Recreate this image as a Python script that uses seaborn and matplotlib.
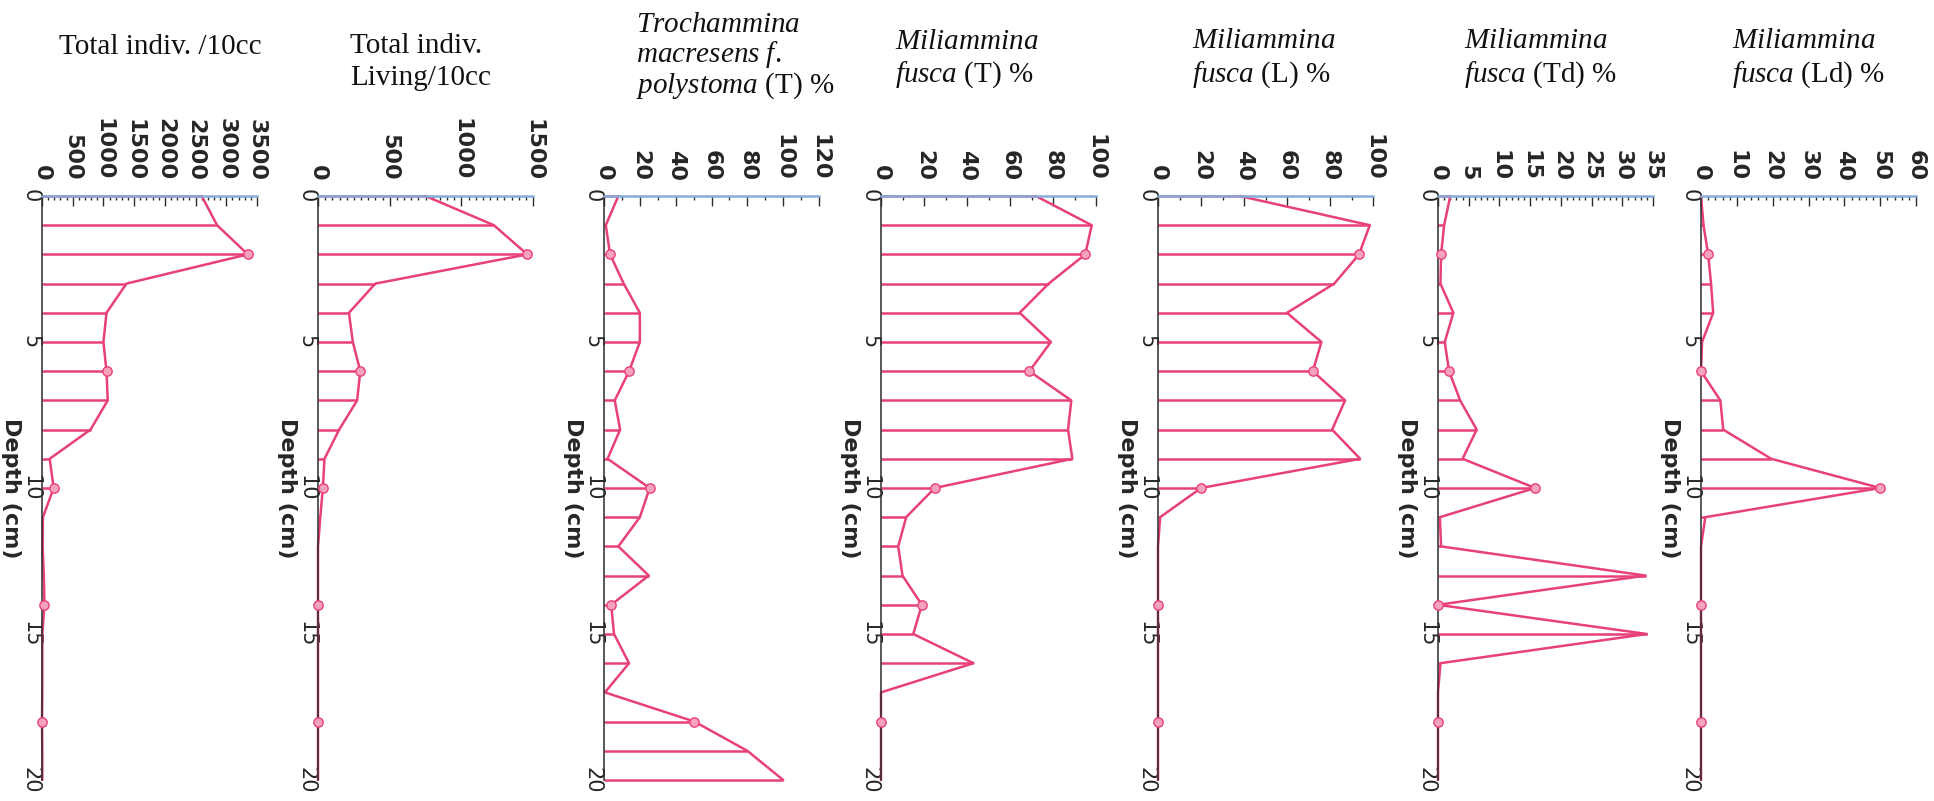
import numpy as np
import pandas as pd
import matplotlib
matplotlib.use('Agg')
import matplotlib.pyplot as plt
from matplotlib.ticker import MultipleLocator
import seaborn as sns

# ==================== 数据 ====================
# 深度 (cm)，每 1 cm 一个样
depth = list(range(0, 21))

total_indiv = [2600, 2850, 3350, 1375, 1050, 1000, 1050, 1070, 790, 125, 190,
               15, 10, 30, 40, 5, 5, 5, 0, 5, 5]
living_indiv = [750, 1227, 1460, 400, 216, 243, 295, 273, 148, 45, 34,
                16, 0, 0, 0, 0, 0, 0, 0, 0, 0]
tm_polystoma_T = [8, 1, 3.4, 11, 20, 20, 14, 6, 9, 2, 25.5,
                  20, 8, 25, 4, 5.6, 14, 0.5, 50.5, 80, 100]
mf_T = [72, 98, 95, 78, 64.5, 79, 69, 88.5, 87, 89, 25,
        11.7, 8, 10, 19, 15, 43, 0, 0, 0, 0]
mf_L = [38, 98.5, 93.5, 82, 60, 76, 72, 87, 81, 94, 20,
        1, 0, 0, 0, 0, 0, 0, 0, 0, 0]
mf_Td = [2, 1, 0.5, 0.4, 2.5, 1.1, 1.8, 3.6, 6.3, 4, 15.8,
         0.3, 0.5, 33.8, 0, 34, 0.4, 0, 0, 0, 0]
mf_Ld = [0, 0.7, 2, 2.8, 3.4, 0.3, 0, 5.4, 6.2, 19.6, 50,
         1.2, 0, 0, 0, 0, 0, 0, 0, 0, 0]

panel_values = [total_indiv, living_indiv, tm_polystoma_T, mf_T, mf_L, mf_Td, mf_Ld]
panel_xmax = [3500, 1500, 120, 100, 100, 35, 60]
panel_xstep = [500, 500, 20, 20, 20, 5, 10]
panel_minor = [100, 50, 10, 10, 10, 1, 2]

panel_titles = [
    ["Total indiv. /10cc"],
    ["Total indiv.", "Living/10cc"],
    [r"$\mathit{Trochammina}$", r"$\mathit{macresens\ f.}$", r"$\mathit{polystoma}$ (T) %"],
    [r"$\mathit{Miliammina}$", r"$\mathit{fusca}$ (T) %"],
    [r"$\mathit{Miliammina}$", r"$\mathit{fusca}$ (L) %"],
    [r"$\mathit{Miliammina}$", r"$\mathit{fusca}$ (Td) %"],
    [r"$\mathit{Miliammina}$", r"$\mathit{fusca}$ (Ld) %"],
]

# ==================== 版面 (像素) ====================
W, H = 1934, 801
axes_left_px = [42, 318, 604, 881, 1158, 1438, 1701]
axes_width_px = 215
axes_top_px, axes_bottom_px = 196, 780
title_left_px = [59, 350, 636, 895, 1192, 1464, 1732]
title_y_px = [[47], [46, 78], [25, 55, 86], [42, 75], [41, 75], [41, 75], [41, 75]]

pink = '#e8407a'
marker_face = '#f5a3bb'
axis_blue = '#86acd8'
dark = '#2b2b2b'

sns.set_style('white')
plt.rcParams['font.family'] = ['DejaVu Sans']
plt.rcParams['mathtext.fontset'] = 'custom'
plt.rcParams['mathtext.rm'] = 'Liberation Serif'
plt.rcParams['mathtext.it'] = 'Liberation Serif:italic'

fig = plt.figure(figsize=(W / 100, H / 100), dpi=100)

for i, vals in enumerate(panel_values):
    ax = fig.add_axes([axes_left_px[i] / W, 1 - axes_bottom_px / H,
                       axes_width_px / W, (axes_bottom_px - axes_top_px) / H])
    df = pd.DataFrame({'depth': depth, 'value': vals})

    # 水平 stems + 折线 + 每隔 4 个样的圆点
    ax.hlines(df['depth'], 0, df['value'], color=pink, lw=1.8, zorder=2, clip_on=False)
    sns.lineplot(data=df, x='value', y='depth', orient='y', sort=False,
                 estimator=None, color=pink, lw=1.8, ax=ax, zorder=2, clip_on=False)
    sns.scatterplot(data=df.iloc[2::4], x='value', y='depth', s=45,
                    color=marker_face, edgecolor=pink, linewidth=1.0,
                    ax=ax, zorder=4, clip_on=False)

    ax.set_xlim(0, panel_xmax[i])
    ax.set_ylim(20, 0)
    ax.set_xlabel('')
    ax.set_ylabel('')

    # 坐标轴样式
    ax.spines['bottom'].set_visible(False)
    ax.spines['right'].set_visible(False)
    ax.spines['top'].set_color(axis_blue)
    ax.spines['top'].set_linewidth(1.8)
    ax.spines['left'].set_color(dark)
    ax.spines['left'].set_linewidth(1.1)

    # 数值轴在上方，标签旋转 -90
    ax.xaxis.tick_top()
    xt = np.arange(0, panel_xmax[i] + 1, panel_xstep[i])
    ax.set_xticks(xt, labels=[str(int(t)) for t in xt], fontweight='bold', fontsize=16)
    ax.xaxis.set_minor_locator(MultipleLocator(panel_minor[i]))
    ax.tick_params(axis='x', which='both', direction='in', top=True, bottom=False,
                   labeltop=True, labelbottom=False, labelrotation=-90, pad=11,
                   color=dark, width=1.0)
    ax.tick_params(axis='x', which='major', length=7)
    ax.tick_params(axis='x', which='minor', length=3)

    # 深度轴
    yt = [0, 5, 10, 15, 20]
    ax.set_yticks(yt, labels=[str(t) for t in yt], fontsize=15, va='center')
    ax.yaxis.set_minor_locator(MultipleLocator(1))
    ax.tick_params(axis='y', which='both', direction='in', labelrotation=-90,
                   pad=1, color=dark, width=1.0)
    ax.tick_params(axis='y', which='major', length=6)
    ax.tick_params(axis='y', which='minor', length=4)

    ax.text(-31 / axes_width_px, 0.5, 'Depth (cm)', transform=ax.transAxes, rotation=-90,
            ha='center', va='center', fontweight='bold', fontsize=16)

    # 标题（多行，左对齐）
    for line, ypx in zip(panel_titles[i], title_y_px[i]):
        fig.text(title_left_px[i] / W, 1 - ypx / H, line, ha='left', va='center',
                 fontsize=21, family='Liberation Serif', color='#111111')

fig.savefig('out.png', dpi=100)
